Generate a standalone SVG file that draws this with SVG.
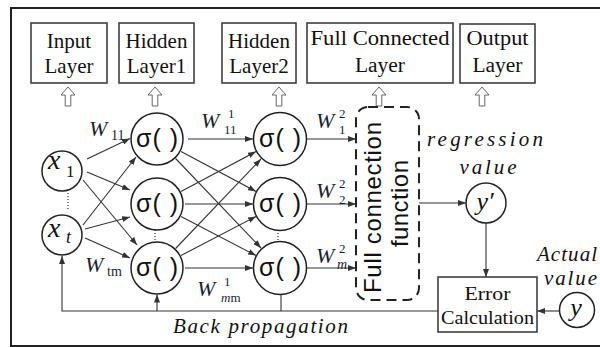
<svg xmlns="http://www.w3.org/2000/svg" width="600" height="347" viewBox="0 0 600 347">
<style>
.frame{fill:none;stroke:#222;stroke-width:2}
.box{fill:#fff;stroke:#333;stroke-width:1.5}
.node{fill:#fff;stroke:#222;stroke-width:1.5}
.edge{stroke:#333;stroke-width:1.1;fill:none}
.dots{stroke:#333;stroke-width:1.2;stroke-dasharray:1 2}
.serif{font-family:"Liberation Serif","Times New Roman",serif;fill:#111}
.sans{font-family:"Liberation Sans","DejaVu Sans",sans-serif;fill:#111}
.it{font-style:italic}
.w{font-family:"Liberation Serif","Times New Roman",serif;fill:#1a1f33}
.sig{font-family:"Liberation Sans","DejaVu Sans",sans-serif;font-size:25px;fill:#111}
</style>
<defs>
  <marker id="ah" markerWidth="8" markerHeight="6" refX="8" refY="3" orient="auto" markerUnits="userSpaceOnUse">
    <path d="M0,0 L8,3 L0,6 Z" fill="#333"/>
  </marker>
  <!-- hollow block arrow pointing up, tip at origin -->
  <path id="up" d="M0,0 L7,8 L2.8,8 L2.8,19 L-2.8,19 L-2.8,8 L-7,8 Z" fill="#fff" stroke="#666" stroke-width="1"/>
</defs>

<rect class="frame" x="11" y="8" width="600" height="338"/>

<!-- layer title boxes -->
<g id="input-layer">
  <rect class="box" x="31" y="23" width="76" height="60"/>
  <text class="serif" x="69" y="48" font-size="21" text-anchor="middle">Input</text>
  <text class="serif" x="69" y="73" font-size="21" text-anchor="middle">Layer</text>
  <use href="#up" x="68" y="87"/>
</g>
<g id="hidden-layer1">
  <rect class="box" x="119" y="23" width="75" height="60"/>
  <text class="serif" x="156.5" y="48" font-size="21" text-anchor="middle">Hidden</text>
  <text class="serif" x="156.5" y="73" font-size="21" text-anchor="middle">Layer1</text>
  <use href="#up" x="155" y="87"/>
</g>
<g id="hidden-layer2">
  <rect class="box" x="222" y="23" width="74" height="60"/>
  <text class="serif" x="259" y="48" font-size="21" text-anchor="middle">Hidden</text>
  <text class="serif" x="259" y="73" font-size="21" text-anchor="middle">Layer2</text>
  <use href="#up" x="279" y="87"/>
</g>
<g id="full-connected-layer">
  <rect class="box" x="307" y="23" width="146" height="60"/>
  <text class="serif" x="380" y="45" font-size="20" text-anchor="middle" textLength="139" lengthAdjust="spacingAndGlyphs">Full Connected</text>
  <text class="serif" x="380" y="72" font-size="20" text-anchor="middle" textLength="50" lengthAdjust="spacingAndGlyphs">Layer</text>
  <use href="#up" x="379" y="87"/>
</g>
<g id="output-layer">
  <rect class="box" x="460" y="24" width="75" height="59"/>
  <text class="serif" x="497.5" y="45" font-size="20" text-anchor="middle" textLength="62" lengthAdjust="spacingAndGlyphs">Output</text>
  <text class="serif" x="497.5" y="72" font-size="20" text-anchor="middle" textLength="50" lengthAdjust="spacingAndGlyphs">Layer</text>
  <use href="#up" x="482" y="87"/>
</g>

<g id="connectors">
  <!-- input to hidden layer 1 -->
  <line class="edge" x1="87" y1="159" x2="130" y2="138.5" marker-end="url(#ah)"/>
  <line class="edge" x1="87" y1="172" x2="130" y2="190" marker-end="url(#ah)"/>
  <line class="edge" x1="83" y1="180" x2="137" y2="245" marker-end="url(#ah)"/>
  <line class="edge" x1="83" y1="225" x2="136" y2="157" marker-end="url(#ah)"/>
  <line class="edge" x1="85" y1="229" x2="130" y2="217" marker-end="url(#ah)"/>
  <line class="edge" x1="85" y1="238" x2="130" y2="258" marker-end="url(#ah)"/>
  <!-- hidden layer 1 to hidden layer 2 -->
  <line class="edge" x1="188" y1="139" x2="253" y2="139" marker-end="url(#ah)"/>
  <line class="edge" x1="185" y1="204" x2="253" y2="204" marker-end="url(#ah)"/>
  <line class="edge" x1="185" y1="268" x2="253" y2="268" marker-end="url(#ah)"/>
  <line class="edge" x1="181" y1="151.6" x2="256" y2="191.4" marker-end="url(#ah)"/>
  <line class="edge" x1="175.6" y1="158.5" x2="261" y2="248" marker-end="url(#ah)"/>
  <line class="edge" x1="181" y1="191.4" x2="256" y2="151.6" marker-end="url(#ah)"/>
  <line class="edge" x1="181" y1="216.5" x2="256" y2="255.5" marker-end="url(#ah)"/>
  <line class="edge" x1="175.6" y1="248.5" x2="261" y2="159" marker-end="url(#ah)"/>
  <line class="edge" x1="181" y1="255.5" x2="256" y2="216.5" marker-end="url(#ah)"/>
  <!-- hidden layer 2 to full connection -->
  <line class="edge" x1="307" y1="139" x2="356" y2="139" marker-end="url(#ah)"/>
  <line class="edge" x1="307" y1="204" x2="356" y2="204" marker-end="url(#ah)"/>
  <line class="edge" x1="307" y1="268" x2="356" y2="268" marker-end="url(#ah)"/>
  <!-- full connection to output, output to error -->
  <line class="edge" x1="419" y1="203" x2="466" y2="203" marker-end="url(#ah)"/>
  <line class="edge" x1="486" y1="223" x2="486" y2="277" marker-end="url(#ah)"/>
  <line class="edge" x1="559" y1="311" x2="537" y2="311" marker-end="url(#ah)"/>
  <!-- back propagation path -->
  <polyline class="edge" points="438,311 62,311 62,256" marker-end="url(#ah)"/>
  <line class="edge" x1="157" y1="311" x2="157" y2="294.5" marker-end="url(#ah)"/>
  <line class="edge" x1="281" y1="311" x2="281" y2="294"/>
  <!-- ellipsis dots between nodes -->
  <line class="dots" x1="68" y1="193" x2="68" y2="209"/>
  <line class="dots" x1="155" y1="230" x2="155" y2="242"/>
  <line class="dots" x1="278" y1="230" x2="278" y2="242" stroke="#4a6fa8"/>
</g>

<!-- weight labels -->
<g id="weights">
  <text class="w it" x="89" y="136" font-size="22">W</text>
  <text class="w" x="111" y="140" font-size="14">11</text>
  <text class="w it" x="85" y="272" font-size="22">W</text>
  <text class="w" x="107" y="276" font-size="14">tm</text>
  <text class="w it" x="201" y="128" font-size="22">W</text>
  <text class="w" x="228" y="118" font-size="13">1</text>
  <text class="w" x="224" y="134" font-size="13">11</text>
  <text class="w it" x="197" y="296" font-size="22">W</text>
  <text class="w" x="224" y="286" font-size="13">1</text>
  <text class="w" x="221" y="302" font-size="13"><tspan font-style="italic">m</tspan>m</text>
  <text class="w it" x="316" y="128" font-size="22">W</text>
  <text class="w" x="339" y="118" font-size="13">2</text>
  <text class="w" x="339" y="134" font-size="13">1</text>
  <text class="w it" x="316" y="198" font-size="22">W</text>
  <text class="w" x="339" y="188" font-size="13">2</text>
  <text class="w" x="339" y="204" font-size="13">2</text>
  <text class="w it" x="316" y="263" font-size="22">W</text>
  <text class="w" x="339" y="253" font-size="13">2</text>
  <text class="w it" x="337" y="269" font-size="14">m</text>
</g>

<!-- input nodes -->
<g id="x1">
  <circle class="node" cx="62" cy="171" r="20"/>
  <text class="serif it" x="48" y="169" font-size="28">x</text>
  <text class="serif" x="66" y="177" font-size="17">1</text>
</g>
<g id="xt">
  <circle class="node" cx="62" cy="235" r="20"/>
  <text class="serif it" x="48" y="237" font-size="28">x</text>
  <text class="serif it" x="66" y="243" font-size="18">t</text>
</g>

<!-- hidden layer 1 -->
<g id="h1-1"><circle class="node" cx="157" cy="139" r="26"/><text class="sig" x="157" y="147" text-anchor="middle" textLength="42">σ( )</text></g>
<g id="h1-2"><circle class="node" cx="157" cy="204" r="26"/><text class="sig" x="157" y="212" text-anchor="middle" textLength="42">σ( )</text></g>
<g id="h1-m"><circle class="node" cx="157" cy="268" r="26"/><text class="sig" x="157" y="276" text-anchor="middle" textLength="42">σ( )</text></g>

<!-- hidden layer 2 -->
<g id="h2-1"><circle class="node" cx="280" cy="139" r="26.5"/><text class="sig" x="280" y="147" text-anchor="middle" textLength="42">σ( )</text></g>
<g id="h2-2"><circle class="node" cx="280" cy="204" r="26.5"/><text class="sig" x="280" y="212" text-anchor="middle" textLength="42">σ( )</text></g>
<g id="h2-m"><circle class="node" cx="280" cy="268" r="26.5"/><text class="sig" x="280" y="276" text-anchor="middle" textLength="42">σ( )</text></g>

<!-- full connection function -->
<g id="fc-function">
  <rect x="356" y="107" width="63" height="193" rx="12" fill="#fff" stroke="#222" stroke-width="2" stroke-dasharray="10 6"/>
  <text class="sans" transform="translate(381,207.5) rotate(-90)" font-size="24" text-anchor="middle" textLength="171">Full connection</text>
  <text class="sans" transform="translate(408,203.5) rotate(-90)" font-size="24" text-anchor="middle" textLength="87">function</text>
</g>

<!-- regression output -->
<g id="y-pred">
  <text class="serif it" x="485" y="146" font-size="21" text-anchor="middle" textLength="116">regression</text>
  <text class="serif it" x="488" y="174" font-size="21" text-anchor="middle" textLength="57">value</text>
  <circle class="node" cx="486" cy="203" r="20"/>
  <text class="serif it" x="485" y="210" font-size="26" text-anchor="middle">y′</text>
</g>

<!-- error calculation -->
<g id="error">
  <rect class="box" x="438" y="277" width="99" height="55"/>
  <text class="serif" x="487.5" y="300" font-size="19" text-anchor="middle" textLength="46" lengthAdjust="spacingAndGlyphs">Error</text>
  <text class="serif" x="487.5" y="324" font-size="19" text-anchor="middle" textLength="93" lengthAdjust="spacingAndGlyphs">Calculation</text>
</g>

<!-- actual value -->
<g id="y-actual">
  <text class="serif it" x="537" y="261" font-size="21" textLength="60">Actual</text>
  <text class="serif it" x="544" y="285" font-size="21" textLength="53">value</text>
  <circle class="node" cx="577" cy="310" r="17.5"/>
  <text class="serif it" x="576" y="316" font-size="26" text-anchor="middle">y</text>
</g>

<g id="backprop-label">
  <text class="serif it" x="173" y="333" font-size="21" textLength="175">Back propagation</text>
</g>
</svg>
